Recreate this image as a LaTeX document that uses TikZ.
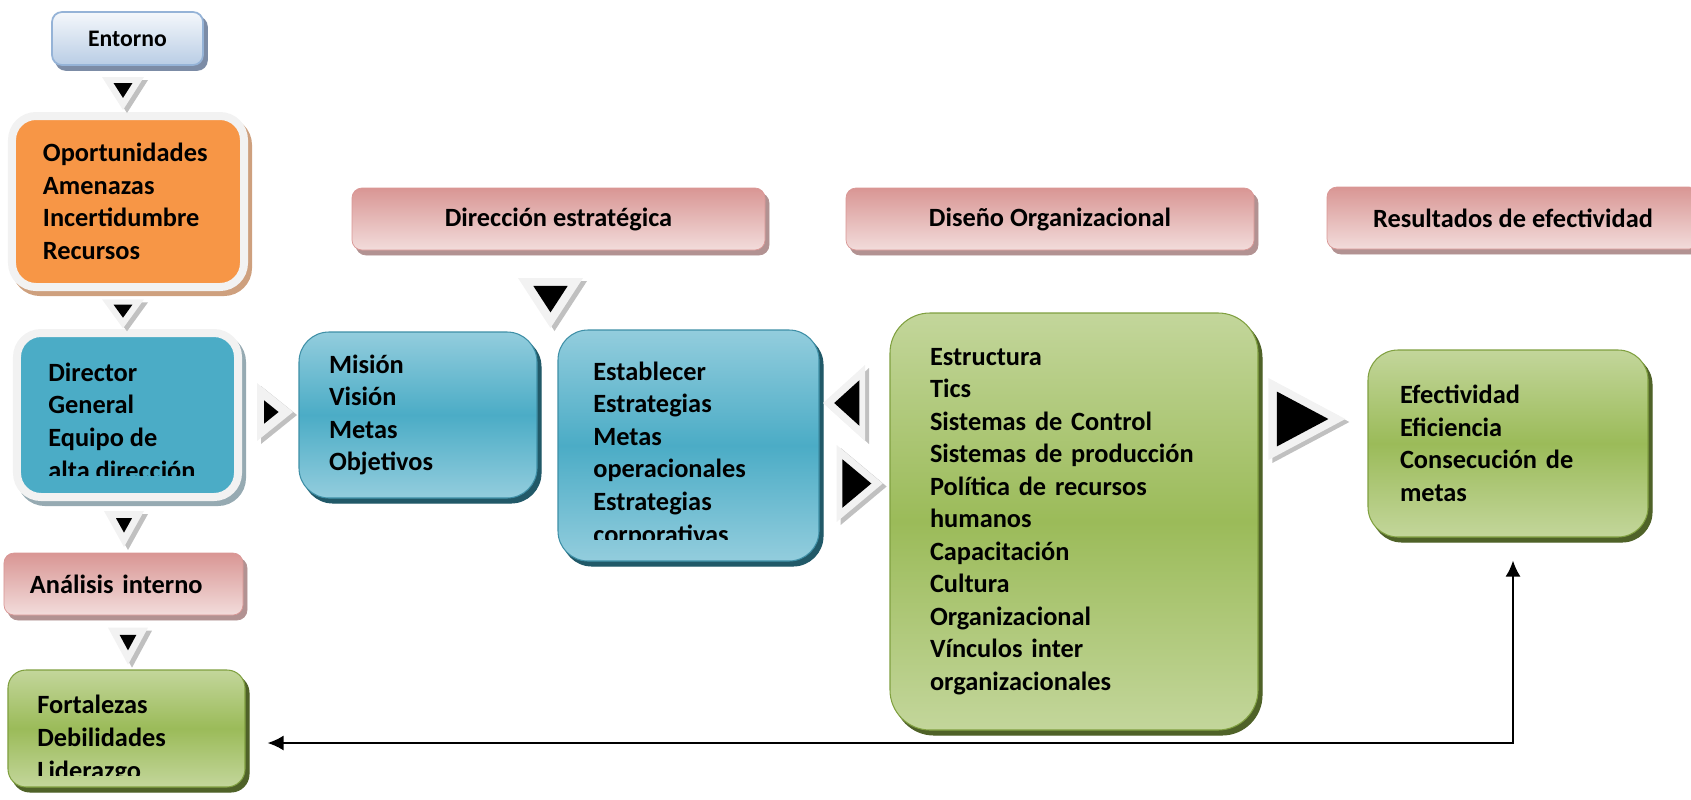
\documentclass[tikz,border=0pt]{standalone}
\usepackage{fontspec}
\setmainfont{Carlito}
\usetikzlibrary{arrows.meta}
\definecolor{azul}{RGB}{75,172,198}
\definecolor{azul-claro}{RGB}{147,205,221}
\definecolor{azul-borde}{RGB}{62,143,166}
\definecolor{azul-sombra}{RGB}{33,89,104}
\definecolor{verde}{RGB}{155,187,89}
\definecolor{verde-claro}{RGB}{195,214,155}
\definecolor{verde-borde}{RGB}{128,160,64}
\definecolor{verde-sombra}{RGB}{79,98,40}
\definecolor{rosa}{RGB}{217,150,148}
\definecolor{rosa-claro}{RGB}{242,220,219}
\definecolor{rosa-sombra}{RGB}{178,146,146}
\definecolor{naranja}{RGB}{247,150,70}
\definecolor{naranja-sombra}{RGB}{206,160,126}
\definecolor{celeste}{RGB}{185,205,229}
\definecolor{celeste-borde}{RGB}{149,179,215}
\definecolor{celeste-sombra}{RGB}{124,140,166}
\definecolor{gris-claro}{RGB}{242,242,242}
\definecolor{marco-sombra}{RGB}{150,170,178}
\definecolor{gris-sombra}{RGB}{192,192,192}

\tikzset{
  texto/.style={font=\fontsize{15}{18.5}\selectfont\bfseries, align=left},
  sombra/.style={preaction={draw=#1, fill=#1, transform canvas={shift={(4,5)}}}},
  entorno/.style={font=\fontsize{13.5}{16}\selectfont\bfseries, draw=celeste-borde, line width=1pt,
    top color=celeste!15, bottom color=celeste, sombra=celeste-sombra, rounded corners=2mm},
  titulo/.style={texto, draw=rosa, top color=rosa, bottom color=rosa-claro, sombra=rosa-sombra,
    rounded corners=2mm, minimum height=12.4mm},
  caja azul/.style={texto, draw=azul-borde, line width=0.6pt, top color=azul-claro, bottom color=azul-claro,
    middle color=azul, sombra=azul-sombra, rounded corners=6mm},
  caja verde/.style={texto, draw=verde-borde, line width=0.6pt, top color=verde-claro, bottom color=verde-claro,
    middle color=verde, sombra=verde-sombra, rounded corners=6mm},
  enmarcada/.style={texto, draw=gris-claro, line width=1.6mm, sombra=#1, rounded corners=4.8mm},
  % el base de un texto de varias lineas es la ultima linea
  suelto/.style={texto, anchor=base west, inner sep=0pt},
  retro/.style={line width=0.4mm, >={Latex[length=3.2mm,width=3mm]}, <->, shorten <=4.6mm, shorten >=4.4mm}
}

% triangulo con relieve: centro, giro, semiancho, alto, escala del negro
\newcommand{\flecha}[5]{%
  \fill[gris-sombra, shift={(#1)}, shift={(4,3)}, rotate=#2] (-#3,-#4/3) -- (#3,-#4/3) -- (0,2*#4/3) -- cycle;
  \fill[gris-claro, shift={(#1)}, rotate=#2] (-#3,-#4/3) -- (#3,-#4/3) -- (0,2*#4/3) -- cycle;
  \fill[black, shift={(#1)}, rotate=#2, scale=#5] (-#3,-#4/3) -- (#3,-#4/3) -- (0,2*#4/3) -- cycle;
}

\begin{document}
\begin{tikzpicture}[x=0.2mm, y=-0.2mm]
\useasboundingbox (0,0) rectangle (1691,799);

% columna de la izquierda
\node [entorno, minimum width=30.2mm, minimum height=10.6mm] (entorno) at (127.5,38.5) {Entorno};
\node [enmarcada=naranja-sombra, fill=naranja, text width=34mm, inner xsep=6.2mm, minimum height=34.2mm] (oportunidades) at (128,201.5)
  {Oportunidades\\Amenazas\\Incertidumbre\\Recursos};
\node [enmarcada=marco-sombra, fill=azul, minimum width=44.2mm, minimum height=32.8mm] (director) at (127.5,415) {};
\begin{scope}
  \clip (0,0) rectangle (1691,475);
  \node [suelto] (director-texto) at (48,479) {Director\\General\\Equipo de\\alta dirección};
\end{scope}
\node [titulo, text width=37.4mm, inner xsep=5.2mm] (analisis) at (123.5,584) {Análisis interno};
\node [caja verde, rounded corners=3.6mm, minimum width=47.4mm, minimum height=23.4mm] (fortalezas) at (126.5,728.5) {};
\begin{scope}
  \clip (0,0) rectangle (1691,775);
  \node [suelto] (fortalezas-texto) at (37,779) {Fortalezas\\Debilidades\\Liderazgo};
\end{scope}

% titulos
\node [titulo, minimum width=82.6mm] (direccion) at (558.5,219) {Dirección estratégica};
\node [titulo, minimum width=81.6mm] (diseno) at (1050,219) {Diseño Organizacional};
\node [titulo, minimum width=74.4mm] (resultados) at (1513,218) {Resultados de efectividad};

% cajas del centro
\node [caja azul, text width=35.6mm, inner xsep=6mm, minimum height=33.2mm] (mision) at (418,415)
  {Misión\\Visión\\Metas\\Objetivos};
\node [caja azul, minimum width=52.2mm, minimum height=46.2mm] (establecer) at (688.5,445.5) {};
\begin{scope}
  \clip (0,0) rectangle (1691,539);
  \node [suelto] (establecer-texto) at (593,543)
    {Establecer\\Estrategias\\Metas\\operacionales\\Estrategias\\corporativas};
\end{scope}
\node [caja verde, rounded corners=8mm, text width=57.6mm, inner xsep=8mm, minimum height=83.4mm] (organizacion) at (1074,521.5)
  {Estructura\\Tics\\Sistemas de Control\\Sistemas de producción\\Política de recursos\\humanos\\Capacitación\\Cultura\\Organizacional\\Vínculos inter\\organizacionales};
\node [caja verde, text width=43.2mm, inner xsep=6.4mm, minimum height=37.4mm] (efectividad) at (1508,443.5)
  {Efectividad\\Eficiencia\\Consecución de\\metas};

% flechas
\flecha{123,88}{0}{21}{33}{0.45}
\flecha{123,309}{0}{21}{29}{0.45}
\flecha{124,523}{0}{20}{36}{0.4}
\flecha{128,640}{0}{20}{37}{0.42}
\flecha{269,412}{90}{29}{36}{0.4}
\flecha{550.5,294.7}{0}{32.5}{50}{0.53}
\flecha{851,403}{-90}{38}{42}{0.6}
\flecha{852,483.5}{90}{38.5}{46}{0.63}
\flecha{1294,419}{90}{41}{77}{0.67}

% retroalimentacion
\coordinate (retorno) at (1513,743);
\draw [retro] (efectividad.south -| retorno) -- (retorno) -- (fortalezas.east |- retorno);
\end{tikzpicture}
\end{document}
